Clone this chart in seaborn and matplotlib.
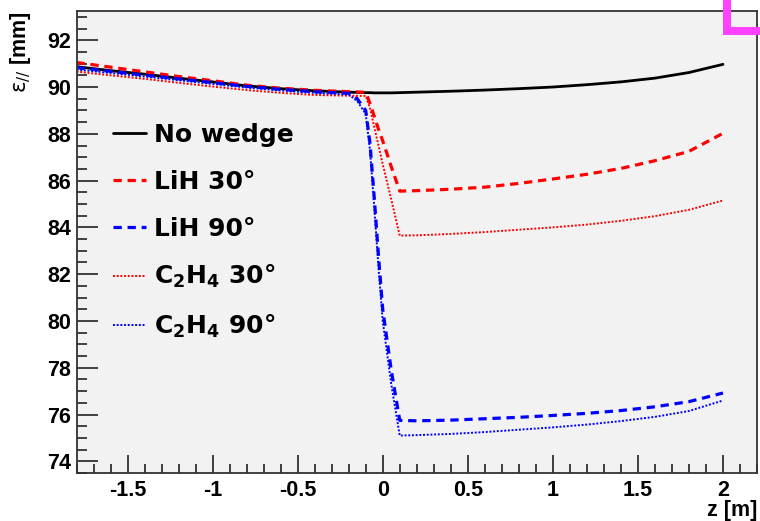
import numpy as np
import pandas as pd
import matplotlib
matplotlib.use("Agg")
import matplotlib.pyplot as plt
from matplotlib.patches import Rectangle
from matplotlib.ticker import MultipleLocator
import seaborn as sns

# ---- data ----
z = [-1.8, -1.6, -1.4, -1.2, -1.0, -0.8, -0.6, -0.4, -0.2, -0.15, -0.1, -0.075,
     -0.05, -0.025, 0.0, 0.05, 0.1, 0.2, 0.4, 0.6, 0.8, 1.0, 1.2, 1.4, 1.6, 1.8, 2.0]

no_wedge = [90.87, 90.70, 90.55, 90.38, 90.22, 90.05, 89.93, 89.84, 89.78, 89.77, 89.76, 89.76,
            89.75, 89.75, 89.75, 89.75, 89.76, 89.78, 89.82, 89.87, 89.93, 90.00, 90.10, 90.22,
            90.38, 90.62, 90.97]
lih_30 = [91.05, 90.85, 90.65, 90.45, 90.27, 90.08, 89.95, 89.86, 89.80, 89.79, 89.77, 89.30,
          88.75, 88.20, 87.70, 86.60, 85.55, 85.57, 85.63, 85.72, 85.88, 86.07, 86.27, 86.52,
          86.85, 87.25, 88.02]
lih_90 = [90.83, 90.67, 90.51, 90.35, 90.19, 90.03, 89.90, 89.80, 89.73, 89.50, 89.00, 87.60,
          85.30, 82.80, 80.50, 77.90, 75.75, 75.73, 75.76, 75.82, 75.88, 75.96, 76.05, 76.17,
          76.33, 76.55, 76.92]
c2h4_30 = [90.66, 90.50, 90.35, 90.18, 90.02, 89.87, 89.75, 89.66, 89.63, 89.62, 89.62, 89.10,
           88.30, 87.50, 86.70, 85.20, 83.65, 83.66, 83.72, 83.80, 83.90, 84.00, 84.12, 84.28,
           84.48, 84.75, 85.15]
c2h4_90 = [90.75, 90.60, 90.45, 90.29, 90.13, 89.98, 89.85, 89.75, 89.68, 89.40, 88.85, 87.30,
           84.90, 82.30, 80.00, 77.30, 75.10, 75.12, 75.17, 75.25, 75.35, 75.45, 75.57, 75.72,
           75.90, 76.15, 76.60]

labels = ["No wedge", "LiH 30°", "LiH 90°", r"C$_\mathbf{2}$H$_\mathbf{4}$ 30°", r"C$_\mathbf{2}$H$_\mathbf{4}$ 90°"]
series = [no_wedge, lih_30, lih_90, c2h4_30, c2h4_90]

x_ticks = [-1.5, -1, -0.5, 0, 0.5, 1, 1.5, 2]
x_tick_labels = ["-1.5", "-1", "-0.5", "0", "0.5", "1", "1.5", "2"]
y_ticks = [74, 76, 78, 80, 82, 84, 86, 88, 90, 92]

# ---- style ----
sns.set_theme(style="ticks")
plt.rcParams["font.family"] = ["Liberation Sans", "DejaVu Sans"]
plt.rcParams["mathtext.fontset"] = "custom"
plt.rcParams["mathtext.rm"] = "DejaVu Sans:bold"
plt.rcParams["mathtext.bf"] = "DejaVu Sans:bold"
plt.rcParams["mathtext.it"] = "DejaVu Sans:italic"
plt.rcParams["mathtext.sf"] = "DejaVu Sans"
plt.rcParams["text.color"] = "black"
plt.rcParams["axes.labelcolor"] = "black"
plt.rcParams["xtick.color"] = "black"
plt.rcParams["ytick.color"] = "black"

W, H = 760, 521
fig = plt.figure(figsize=(W / 100, H / 100), dpi=100, facecolor="white")
ax_l, ax_r, ax_t, ax_b = 76.5, 757, 11, 473
ax = fig.add_axes([ax_l / W, 1 - ax_b / H, (ax_r - ax_l) / W, (ax_b - ax_t) / H])
ax.set_facecolor("#f2f2f2")

styles = [
    dict(color="black", lw=2.0, linestyle="-"),
    dict(color="#ff0000", lw=2.3, linestyle=(0, (2.6, 1.8))),
    dict(color="#0000ff", lw=2.3, linestyle=(0, (2.6, 1.8))),
    dict(color="#ff0000", lw=1.4, linestyle=(0, (1.0, 0.9))),
    dict(color="#0000ff", lw=1.4, linestyle=(0, (1.0, 0.9))),
]

for lab, vals, st in zip(labels, series, styles):
    df = pd.DataFrame({"z": z, "eps": vals})
    sns.lineplot(data=df, x="z", y="eps", ax=ax, label=lab, estimator=None,
                 sort=False, **st)

ax.set_xlim(-1.8, 2.2)
ax.set_ylim(73.5, 93.25)

ax.set_xticks(x_ticks)
ax.set_xticklabels(x_tick_labels)
ax.set_yticks(y_ticks)
ax.xaxis.set_minor_locator(MultipleLocator(0.1))
ax.yaxis.set_minor_locator(MultipleLocator(0.5))

for lbl in ax.get_xticklabels() + ax.get_yticklabels():
    lbl.set_fontweight("bold")
    lbl.set_fontsize(15.5)
    lbl.set_color("black")

ax.tick_params(axis="both", which="both", direction="in", color="#222222",
               width=1.2, top=False, right=False)
ax.tick_params(axis="y", which="major", length=15, pad=4)
ax.tick_params(axis="y", which="minor", length=7.5)
ax.tick_params(axis="x", which="major", length=13, pad=5)
ax.tick_params(axis="x", which="minor", length=6.5)

for sp in ax.spines.values():
    sp.set_color("#333333")
    sp.set_linewidth(1.3)
    sp.set_visible(True)

ax.set_xlabel("z [m]", fontsize=15.5, fontweight="bold", loc="right")
ax.xaxis.set_label_coords(1.0, -(500 - ax_b) / (ax_b - ax_t))
ax.xaxis.label.set_va("top")
ax.set_ylabel(r"$\mathsf{\epsilon_{//}}$ [mm]", fontsize=15.5, fontweight="bold", loc="top")
ax.yaxis.set_label_coords(-(ax_l - 33) / (ax_r - ax_l), 1.0)
ax.yaxis.label.set_va("bottom")
ax.yaxis.label.set_ha("right")

leg = ax.legend(loc="upper left",
                bbox_to_anchor=((113 - ax_l) / (ax_r - ax_l), 1 - (123 - ax_t) / (ax_b - ax_t)),
                frameon=False, borderaxespad=0, borderpad=0,
                handlelength=1.3, handletextpad=0.35, labelspacing=0.91,
                prop=dict(family="DejaVu Sans", weight="bold", size=18))
for t in leg.get_texts():
    t.set_color("black")

# magenta corner mark at the top right
mag = "#ff40ff"
fig.add_artist(Rectangle((723 / W, 1 - 35 / H), 8 / W, 35 / H, transform=fig.transFigure,
                         color=mag, zorder=10, lw=0))
fig.add_artist(Rectangle((723 / W, 1 - 35 / H), 37 / W, 8 / H, transform=fig.transFigure,
                         color=mag, zorder=10, lw=0))

fig.savefig("out.png", dpi=100, facecolor="white")
